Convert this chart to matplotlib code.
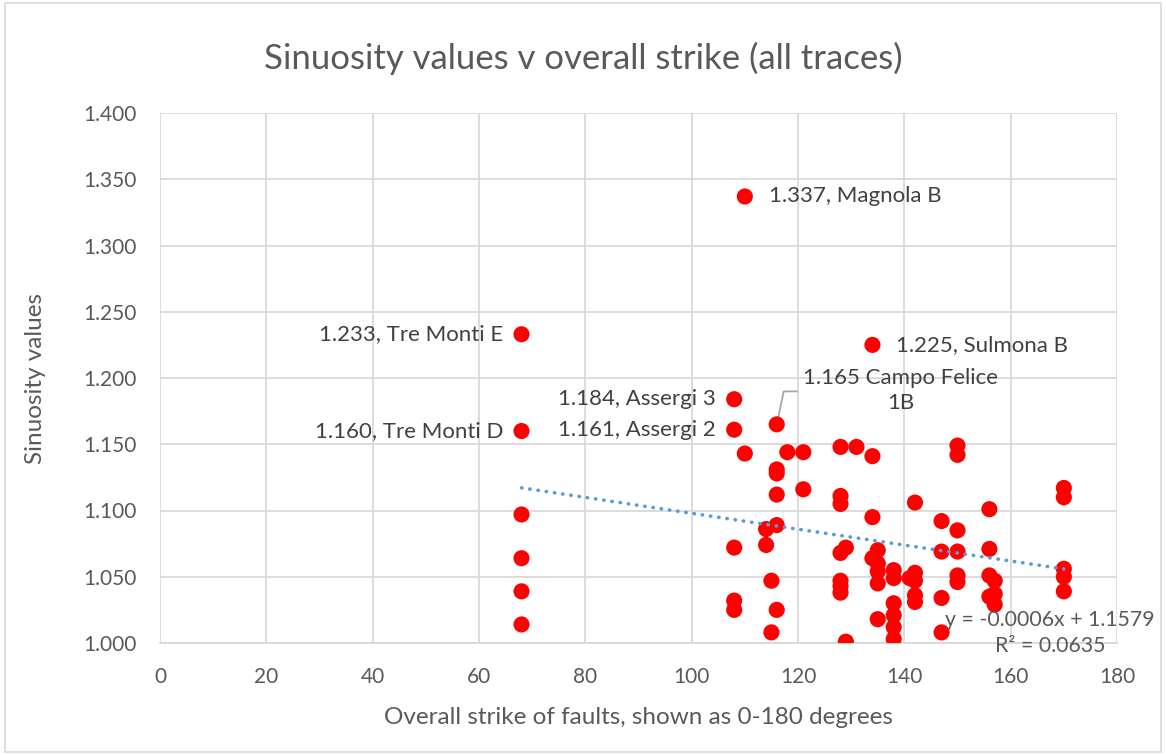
import matplotlib.pyplot as plt
import numpy as np
from matplotlib.patches import Rectangle

plt.rcParams['font.family'] = ['Lato', 'DejaVu Sans']

# strike (degrees) and sinuosity values
strike = [68, 68, 68, 68, 68, 68,
          108, 108, 108, 108, 108,
          110, 110,
          114, 114,
          115, 115,
          116, 116, 116, 116, 116, 116,
          118,
          121, 121,
          128, 128, 128, 128, 128, 128, 128,
          129, 129,
          131,
          134, 134, 134, 134,
          135, 135, 135, 135, 135,
          138, 138, 138, 138, 138, 138,
          141,
          142, 142, 142, 142, 142,
          147, 147, 147, 147,
          150, 150, 150, 150, 150, 150,
          156, 156, 156, 156,
          157, 157, 157,
          170, 170, 170, 170, 170]
sinuosity = [1.233, 1.160, 1.097, 1.064, 1.039, 1.014,
             1.184, 1.161, 1.072, 1.032, 1.025,
             1.337, 1.143,
             1.086, 1.074,
             1.047, 1.008,
             1.165, 1.131, 1.128, 1.112, 1.089, 1.025,
             1.144,
             1.144, 1.116,
             1.148, 1.111, 1.105, 1.068, 1.047, 1.043, 1.038,
             1.072, 1.001,
             1.148,
             1.225, 1.141, 1.095, 1.064,
             1.070, 1.060, 1.054, 1.045, 1.018,
             1.055, 1.049, 1.030, 1.021, 1.012, 1.003,
             1.049,
             1.106, 1.053, 1.047, 1.036, 1.031,
             1.092, 1.069, 1.034, 1.008,
             1.149, 1.142, 1.085, 1.069, 1.051, 1.046,
             1.101, 1.071, 1.051, 1.035,
             1.047, 1.037, 1.029,
             1.117, 1.110, 1.056, 1.050, 1.039]

# labelled points: (strike, sinuosity, text, side)
labels = [(110, 1.337, '1.337, Magnola B', 'right'),
          (68, 1.233, '1.233, Tre Monti E', 'left'),
          (134, 1.225, '1.225, Sulmona B', 'right'),
          (108, 1.184, '1.184, Assergi 3', 'left'),
          (108, 1.161, '1.161, Assergi 2', 'left'),
          (68, 1.160, '1.160, Tre Monti D', 'left')]

# linear trendline as reported by the chart
trend_slope = -0.0006
trend_intercept = 1.1579
trend_r2 = 0.0635

txt = '#595959'
grid = '#D9D9D9'

fig = plt.figure(figsize=(11.66, 7.55), dpi=100)
fig.patches.append(Rectangle((0.004, 0.004), 0.992, 0.992, transform=fig.transFigure,
                             fill=False, edgecolor=grid, lw=1.2))
ax = fig.add_axes([160 / 1166, 112 / 755, 957 / 1166, 530 / 755])

ax.scatter(strike, sinuosity, s=135, color='#FF0000', edgecolors='none', zorder=3)

xs = np.array([min(strike), max(strike)])
ax.plot(xs, trend_slope * xs + trend_intercept, color='#5B9BD5', lw=2.6,
        linestyle=(0, (0.1, 2.2)), dash_capstyle='round', zorder=4)

ax.set_xlim(0, 180)
ax.set_ylim(1.0, 1.4)
ax.set_xticks(np.arange(0, 181, 20))
ax.set_yticks(np.arange(1.0, 1.401, 0.05))
ax.set_yticklabels(['%.3f' % v for v in np.arange(1.0, 1.401, 0.05)])
ax.grid(True, color=grid, lw=1.3)
ax.set_axisbelow(True)
for s in ['top', 'right', 'left']:
    ax.spines[s].set_visible(False)
ax.spines['bottom'].set_color(grid)
ax.spines['bottom'].set_linewidth(1.3)
ax.tick_params(length=0, labelsize=15, colors=txt, pad=16.5)
ax.tick_params(axis='x', pad=17)

fs = 16
for x, y, t, side in labels:
    if side == 'right':
        ax.annotate(t, (x, y), xytext=(24, 0), textcoords='offset pixels',
                    ha='left', va='center', fontsize=fs, color='#404040')
    else:
        ax.annotate(t, (x, y), xytext=(-18, 0), textcoords='offset pixels',
                    ha='right', va='center', fontsize=fs, color='#404040')

# Campo Felice label with leader line
ax.annotate('1.165 Campo Felice\n1B', (116, 1.165), xytext=(124, 34),
            textcoords='offset pixels', ha='center', va='center', fontsize=fs,
            color='#404040', linespacing=1.3)
p0 = ax.transData.transform((116, 1.165))
inv = ax.transData.inverted()
pts = inv.transform([p0, p0 + [7, 33], p0 + [20, 33]])
ax.plot(pts[:, 0], pts[:, 1], color='#A6A6A6', lw=1.3, zorder=2, clip_on=False)

ax.text(1050 / 1166, (755 - 633) / 755, 'y = -0.0006x + 1.1579\nR² = %.4f' % trend_r2,
        transform=fig.transFigure, ha='center', va='center', fontsize=15.3,
        color=txt, linespacing=1.4)

fig.text(0.5, (755 - 58) / 755, 'Sinuosity values v overall strike (all traces)',
         fontsize=25, color=txt, ha='center', va='center')
ax.set_xlabel('Overall strike of faults, shown as 0-180 degrees', fontsize=17.5,
              color=txt, labelpad=15)
ax.set_ylabel('Sinuosity values', fontsize=17.5, color=txt, labelpad=27)

fig.savefig('out.png', dpi=100)
